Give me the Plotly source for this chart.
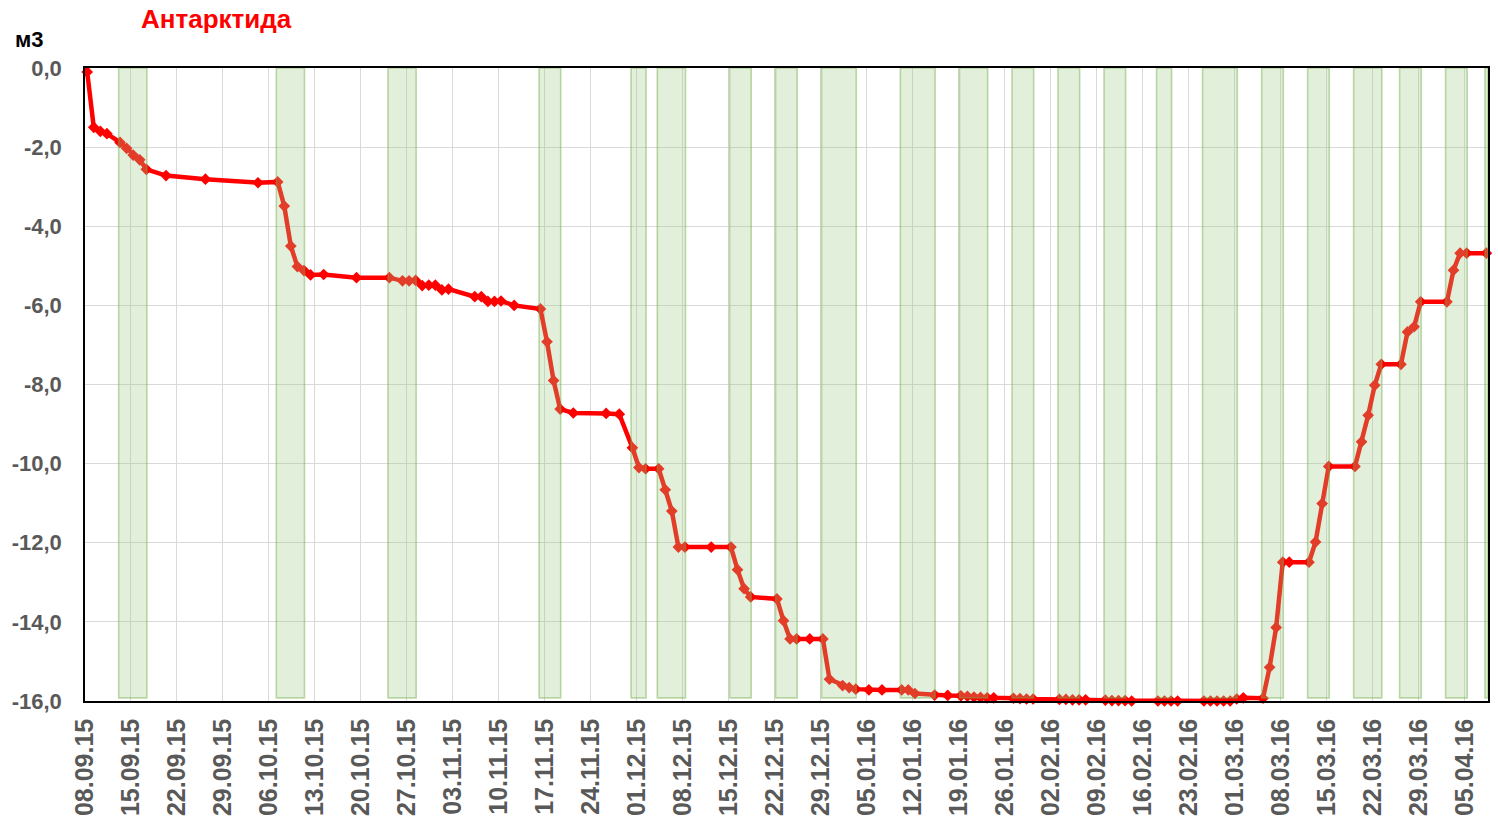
import plotly.graph_objects as go
import pandas as pd

# ---- data ----
dates = [
    "2015-09-08", "2015-09-09", "2015-09-10", "2015-09-11", "2015-09-13", "2015-09-14",
    "2015-09-15", "2015-09-16", "2015-09-17", "2015-09-20", "2015-09-26", "2015-10-04",
    "2015-10-07", "2015-10-08", "2015-10-09", "2015-10-10", "2015-10-11", "2015-10-12",
    "2015-10-14", "2015-10-19", "2015-10-24", "2015-10-26", "2015-10-27", "2015-10-28",
    "2015-10-29", "2015-10-30", "2015-10-31", "2015-11-01", "2015-11-02", "2015-11-06",
    "2015-11-07", "2015-11-08", "2015-11-09", "2015-11-10", "2015-11-12", "2015-11-16",
    "2015-11-17", "2015-11-18", "2015-11-19", "2015-11-21", "2015-11-26", "2015-11-28",
    "2015-11-30", "2015-12-01", "2015-12-02", "2015-12-04", "2015-12-05", "2015-12-06",
    "2015-12-07", "2015-12-08", "2015-12-12", "2015-12-15", "2015-12-16", "2015-12-17",
    "2015-12-18", "2015-12-22", "2015-12-23", "2015-12-24", "2015-12-25", "2015-12-27",
    "2015-12-29", "2015-12-30", "2016-01-01", "2016-01-02", "2016-01-03", "2016-01-05",
    "2016-01-07", "2016-01-10", "2016-01-11", "2016-01-12", "2016-01-15", "2016-01-17",
    "2016-01-19", "2016-01-20", "2016-01-21", "2016-01-22", "2016-01-23", "2016-01-24",
    "2016-01-27", "2016-01-28", "2016-01-29", "2016-01-30", "2016-02-03", "2016-02-04",
    "2016-02-05", "2016-02-06", "2016-02-07", "2016-02-10", "2016-02-11", "2016-02-12",
    "2016-02-13", "2016-02-14", "2016-02-18", "2016-02-19", "2016-02-20", "2016-02-21",
    "2016-02-25", "2016-02-26", "2016-02-27", "2016-02-28", "2016-02-29", "2016-03-01",
    "2016-03-02", "2016-03-05", "2016-03-06", "2016-03-07", "2016-03-08", "2016-03-09",
    "2016-03-12", "2016-03-13", "2016-03-14", "2016-03-15", "2016-03-19", "2016-03-20",
    "2016-03-21", "2016-03-22", "2016-03-23", "2016-03-26", "2016-03-27", "2016-03-28",
    "2016-03-29", "2016-04-02", "2016-04-03", "2016-04-04", "2016-04-05", "2016-04-08",
]
values = [
    -0.1, -1.5, -1.6, -1.66, -1.88, -2.03,
    -2.2, -2.32, -2.56, -2.72, -2.81, -2.9,
    -2.88, -3.49, -4.5, -5.02, -5.12, -5.23,
    -5.22, -5.3, -5.3, -5.38, -5.38, -5.37,
    -5.5, -5.49, -5.49, -5.61, -5.59, -5.78,
    -5.78, -5.9, -5.9, -5.89, -6.0, -6.09,
    -6.92, -7.9, -8.62, -8.72, -8.73, -8.75,
    -9.6, -10.1, -10.13, -10.13, -10.66, -11.2,
    -12.11, -12.11, -12.11, -12.11, -12.68, -13.16,
    -13.37, -13.42, -13.97, -14.43, -14.43, -14.43,
    -14.43, -15.45, -15.61, -15.66, -15.7, -15.72,
    -15.72, -15.72, -15.72, -15.81, -15.85, -15.86,
    -15.87, -15.88, -15.9, -15.91, -15.92, -15.92,
    -15.93, -15.94, -15.95, -15.95, -15.96, -15.96,
    -15.97, -15.97, -15.97, -15.98, -15.99, -15.99,
    -15.99, -16.0, -16.0, -16.0, -16.0, -16.0,
    -16.0, -16.0, -16.0, -16.0, -16.0, -15.95,
    -15.92, -15.93, -15.15, -14.14, -12.49, -12.49,
    -12.49, -11.98, -11.01, -10.07, -10.07, -9.45,
    -8.78, -8.02, -7.49, -7.49, -6.67, -6.54,
    -5.91, -5.91, -5.11, -4.68, -4.68, -4.68,
]
band_start = [
    "2015-09-13", "2015-10-07", "2015-10-24", "2015-11-16", "2015-11-30", "2015-12-04",
    "2015-12-15", "2015-12-22", "2015-12-29", "2016-01-10", "2016-01-19", "2016-01-27",
    "2016-02-03", "2016-02-10", "2016-02-18", "2016-02-25", "2016-03-05", "2016-03-12",
    "2016-03-19", "2016-03-26", "2016-04-02", "2016-04-08",
]
band_end = [
    "2015-09-17", "2015-10-11", "2015-10-28", "2015-11-19", "2015-12-02", "2015-12-08",
    "2015-12-18", "2015-12-25", "2016-01-03", "2016-01-15", "2016-01-23", "2016-01-30",
    "2016-02-06", "2016-02-13", "2016-02-20", "2016-03-01", "2016-03-08", "2016-03-15",
    "2016-03-23", "2016-03-29", "2016-04-05", "2016-04-09",
]
title_text = "Антарктида"
unit_text = "м3"
y_ticks = [0, -2, -4, -6, -8, -10, -12, -14, -16]
y_tick_labels = ["0,0", "-2,0", "-4,0", "-6,0", "-8,0", "-10,0", "-12,0", "-14,0", "-16,0"]

# ---- figure ----
W, H = 1498, 828
ML, MR, MT, MB = 85, 10, 68, 127
PW, PH = W - ML - MR, H - MT - MB

x_pts = pd.to_datetime(dates) + pd.Timedelta(hours=8)
x_start = pd.Timestamp("2015-09-08")
x_end = pd.Timestamp("2016-04-08 14:00")

fig = go.Figure()
fig.add_trace(go.Scatter(
    x=x_pts, y=values, mode="lines+markers",
    line=dict(color="#FF0000", width=4.5),
    marker=dict(symbol="diamond", size=9, color="#FF0000"),
    cliponaxis=False, showlegend=False,
))

shapes = []
for s, e in zip(band_start, band_end):
    x0 = pd.Timestamp(s) + pd.Timedelta(hours=3)
    x1 = min(pd.Timestamp(e) + pd.Timedelta(hours=10), x_end)
    shapes.append(dict(
        type="rect", xref="x", yref="y", x0=x0, x1=x1, y0=-15.92, y1=0,
        fillcolor="rgba(158,201,132,0.3)",
        line=dict(color="rgba(112,173,71,0.45)", width=1.6),
        layer="above",
    ))

tick_dates = pd.date_range("2015-09-08", "2016-04-05", freq="7D")
fig.update_layout(
    width=W, height=H,
    margin=dict(l=ML, r=MR, t=MT, b=MB, autoexpand=False),
    paper_bgcolor="white", plot_bgcolor="white",
    font=dict(family="Liberation Sans, Arial, sans-serif"),
    shapes=shapes,
    annotations=[
        dict(text=title_text, xref="paper", yref="paper",
             x=(139 - ML) / PW, y=1 + (MT - 19) / PH, xanchor="left", yanchor="middle",
             showarrow=False, font=dict(size=26, color="#FF0000", weight="bold")),
        dict(text=unit_text, xref="paper", yref="paper",
             x=(13 - ML) / PW, y=1 + (MT - 39) / PH, xanchor="left", yanchor="middle",
             showarrow=False, font=dict(size=22, color="black", weight="bold")),
    ],
)
fig.update_xaxes(
    type="date", range=[x_start, x_end], automargin=False,
    tickvals=tick_dates, ticktext=[d.strftime("%d.%m.%y") for d in tick_dates],
    tickangle=-90, tickfont=dict(size=25, color="#595959", weight="bold"),
    showgrid=True, gridcolor="#D9D9D9", gridwidth=1,
    showline=True, linecolor="black", linewidth=1.5, mirror=True,
    ticks="", ticklabelstandoff=6, zeroline=False,
)
fig.update_yaxes(
    range=[-16, 0], tickvals=y_ticks, ticktext=y_tick_labels, automargin=False,
    tickfont=dict(size=22, color="#595959", weight="bold"),
    showgrid=True, gridcolor="#D9D9D9", gridwidth=1,
    showline=True, linecolor="black", linewidth=1.5, mirror=True,
    ticks="", ticklabelstandoff=17, zeroline=False,
)

fig.write_html("out.html", config={"displayModeBar": False},
               post_script="document.body.style.margin='0';")
